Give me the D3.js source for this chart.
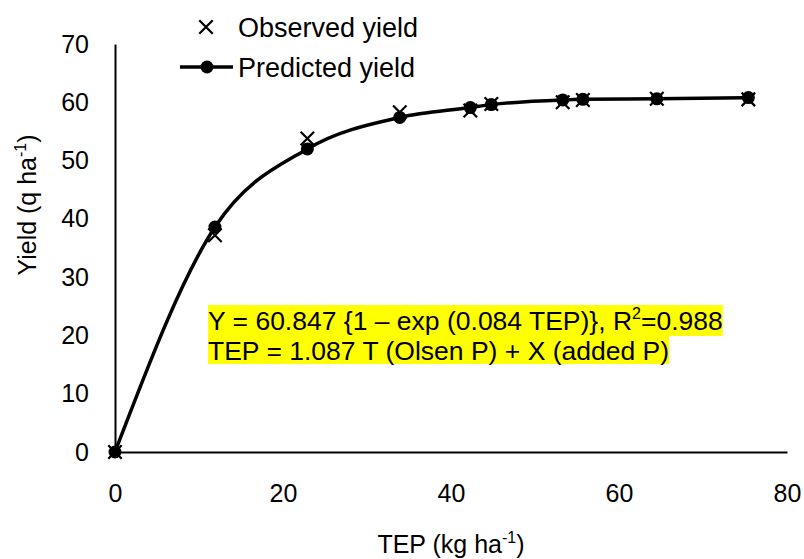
<!DOCTYPE html>
<html>
<head>
<meta charset="utf-8">
<script src="https://cdn.jsdelivr.net/npm/d3@7"></script>
<style>
  body { margin: 0; background: #fff; }
  text { font-family: "Liberation Sans", Arial, sans-serif; fill: #000; }
</style>
</head>
<body>
<div id="chart"></div>
<script>
// values
const tep = [0, 11.9, 22.9, 33.9, 42.3, 44.8, 53.3, 55.7, 64.5, 75.4]
const observedYield = [0, 37.2, 53.8, 58.3, 58.6, 59.7, 60.0, 60.4, 60.6, 60.5]
const predictedYield = [0, 38.6, 52.0, 57.4, 59.1, 59.6, 60.4, 60.5, 60.6, 60.8]
const xTicks = [0, 20, 40, 60, 80]
const yTicks = [0, 10, 20, 30, 40, 50, 60, 70]
const seriesNames = ["Observed yield", "Predicted yield"]

const ancho = 804
const alto = 559
const margen = { izquierdo: 115, derecho: 17, superior: 44, inferior: 107 }

const svg = d3.select("#chart").append("svg").attr("width", ancho).attr("height", alto)

const x = d3.scaleLinear().domain([0, 80]).range([margen.izquierdo, ancho - margen.derecho])
const y = d3.scaleLinear().domain([0, 70]).range([alto - margen.inferior, margen.superior])

const datos = tep.map((t, i) => ({ tep: t, obs: observedYield[i], pred: predictedYield[i] }))

// axes, no tick marks
const ejeX = d3.axisBottom(x).tickValues(xTicks).tickSize(0).tickPadding(32)
const ejeY = d3.axisLeft(y).tickValues(yTicks).tickSize(0).tickPadding(26)

const grupoX = svg.append("g").attr("transform", `translate(0, ${y(0)})`).call(ejeX)
const grupoY = svg.append("g").attr("transform", `translate(${x(0)}, 0)`).call(ejeY)

grupoX.select(".domain").attr("stroke", "#000").attr("stroke-width", 2)
grupoY.select(".domain").attr("stroke", "#000").attr("stroke-width", 2)
svg.selectAll(".tick text").attr("font-size", 25).attr("font-family", "Liberation Sans, Arial, sans-serif").attr("fill", "#000")

// axis titles
const tituloX = svg.append("text").attr("x", 451).attr("y", 553).attr("text-anchor", "middle").attr("font-size", 25)
tituloX.append("tspan").text("TEP (kg ha")
tituloX.append("tspan").text("-1").attr("font-size", 16).attr("dy", -10)
tituloX.append("tspan").text(")").attr("dy", 10)

const tituloY = svg.append("text").attr("transform", "translate(36, 205) rotate(-90)").attr("text-anchor", "middle").attr("font-size", 25)
tituloY.append("tspan").text("Yield (q ha")
tituloY.append("tspan").text("-1").attr("font-size", 16).attr("dy", -10)
tituloY.append("tspan").text(")").attr("dy", 10)

// annotation with yellow highlight
const notas = svg.append("g")
const linea1 = notas.append("text").attr("x", 208).attr("y", 330).attr("font-size", 26.5)
linea1.append("tspan").text("Y = 60.847 {1 \u2013 exp (0.084 TEP)}, R")
linea1.append("tspan").text("2").attr("font-size", 16).attr("dy", -11)
linea1.append("tspan").text("=0.988").attr("dy", 11)
const linea2 = notas.append("text").attr("x", 208).attr("y", 360).attr("font-size", 26.5)
  .text("TEP = 1.087 T (Olsen P) + X (added P)")

const b1 = linea1.node().getBBox()
const b2 = linea2.node().getBBox()
notas.insert("rect", "text").attr("x", b1.x).attr("y", 305).attr("width", b1.width).attr("height", 31).attr("fill", "#ffff00")
notas.insert("rect", "text").attr("x", b2.x).attr("y", 336).attr("width", b2.width).attr("height", 28).attr("fill", "#ffff00")

// predicted line
svg.append("path").datum(datos)
  .attr("fill", "none").attr("stroke", "#000").attr("stroke-width", 3.5)
  .attr("d", d3.line().x(d => x(d.tep)).y(d => y(d.pred)).curve(d3.curveMonotoneX))

// observed crosses
const cruz = d3.symbol().type(d3.symbolX).size(120)
svg.selectAll(".obs").data(datos).enter().append("path")
  .attr("class", "obs")
  .attr("transform", d => `translate(${x(d.tep)}, ${y(d.obs)})`)
  .attr("d", cruz).attr("fill", "none").attr("stroke", "#000").attr("stroke-width", 2.2)

// predicted points
svg.selectAll(".pred").data(datos).enter().append("circle")
  .attr("class", "pred")
  .attr("cx", d => x(d.tep)).attr("cy", d => y(d.pred)).attr("r", 6.5).attr("fill", "#000")

// legend
const leyenda = svg.append("g")
leyenda.append("path").attr("transform", "translate(206, 27)").attr("d", cruz)
  .attr("fill", "none").attr("stroke", "#000").attr("stroke-width", 2.2)
leyenda.append("text").attr("x", 238).attr("y", 37).attr("font-size", 27).text(seriesNames[0])
leyenda.append("line").attr("x1", 180).attr("x2", 233).attr("y1", 67).attr("y2", 67)
  .attr("stroke", "#000").attr("stroke-width", 3.5)
leyenda.append("circle").attr("cx", 207).attr("cy", 67).attr("r", 6.5).attr("fill", "#000")
leyenda.append("text").attr("x", 238).attr("y", 77).attr("font-size", 27).text(seriesNames[1])
</script>
</body>
</html>
